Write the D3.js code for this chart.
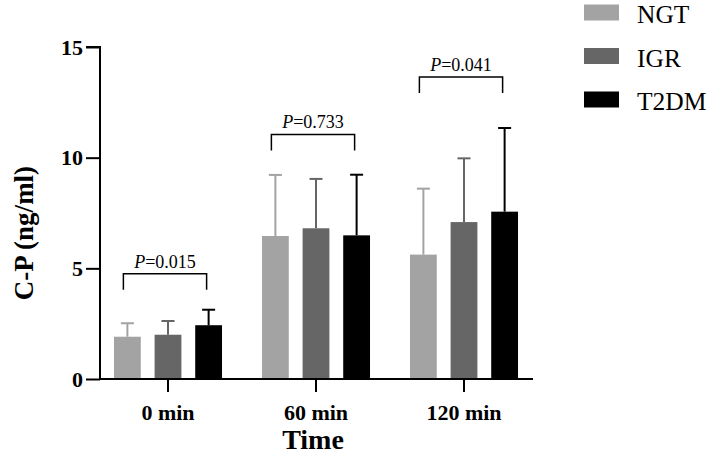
<!DOCTYPE html>
<html>
<head>
<meta charset="utf-8">
<script src="https://cdn.jsdelivr.net/npm/d3@7/dist/d3.min.js"></script>
<style>
  body { margin: 0; background: #fff; }
  svg { display: block; }
  text { font-family: "Liberation Serif", "Times New Roman", serif; }
</style>
</head>
<body>
<svg id="chart" width="709" height="457"></svg>
<script>
const categories = ["0 min", "60 min", "120 min"];
const groups = ["NGT", "IGR", "T2DM"];
const colors = ["#a3a3a3", "#666666", "#000000"];
const meanNGT = [1.91, 6.46, 5.62];
const meanIGR = [2.0, 6.81, 7.09];
const meanT2DM = [2.43, 6.49, 7.56];
const upperNGT = [2.52, 9.22, 8.6];
const upperIGR = [2.62, 9.04, 9.97];
const upperT2DM = [3.13, 9.23, 11.34];
const pValues = ["0.015", "0.733", "0.041"];
const bracketLevels = [4.75, 11.05, 13.65];
const yTicks = [0, 5, 10, 15];

const means = [meanNGT, meanIGR, meanT2DM];
const uppers = [upperNGT, upperIGR, upperT2DM];

const svg = d3.select("#chart");
const x0 = d3.scaleBand().domain(categories).range([94, 538]).paddingInner(0.27).paddingOuter(0.135);
const x1 = d3.scaleBand().domain(groups).range([0, x0.bandwidth()]).paddingInner(0.34);
const y = d3.scaleLinear().domain([0, 15]).range([379, 47]);

// bars
categories.forEach((c, ci) => {
  groups.forEach((g, gi) => {
    const bx = x0(c) + x1(g);
    const bw = x1.bandwidth();
    const cx = bx + bw / 2;
    svg.append("line")
      .attr("x1", cx).attr("x2", cx)
      .attr("y1", y(means[gi][ci])).attr("y2", y(uppers[gi][ci]))
      .attr("stroke", colors[gi]).attr("stroke-width", 2);
    svg.append("line")
      .attr("x1", cx - 6.5).attr("x2", cx + 6.5)
      .attr("y1", y(uppers[gi][ci])).attr("y2", y(uppers[gi][ci]))
      .attr("stroke", colors[gi]).attr("stroke-width", 2);
    svg.append("rect")
      .attr("x", bx).attr("y", y(means[gi][ci]))
      .attr("width", bw).attr("height", y(0) - y(means[gi][ci]))
      .attr("fill", colors[gi]);
  });
  // significance bracket
  const xa = x0(c) + x1("NGT") + x1.bandwidth() / 2 - 4;
  const xb = x0(c) + x1("T2DM") + x1.bandwidth() / 2 - 2;
  const yb = y(bracketLevels[ci]);
  svg.append("path")
    .attr("d", `M${xa},${yb + 16}V${yb}H${xb}V${yb + 16}`)
    .attr("fill", "none").attr("stroke", "#000").attr("stroke-width", 1.5);
  const t = svg.append("text")
    .attr("x", (xa + xb) / 2).attr("y", yb - 6)
    .attr("text-anchor", "middle").attr("font-size", 18);
  t.append("tspan").attr("font-style", "italic").text("P");
  t.append("tspan").text("=" + pValues[ci]);
});

// y axis
const yAxis = svg.append("g").attr("transform", "translate(100,0)")
  .call(d3.axisLeft(y).tickValues(yTicks).tickSize(14).tickPadding(3));
yAxis.select(".domain").attr("stroke-width", 2).attr("d", `M-14,${y(15)}H0V${y(0)}`);
yAxis.selectAll(".tick line").attr("stroke-width", 2);
yAxis.selectAll(".tick text").attr("font-size", 22).attr("font-weight", "bold")
  .attr("font-family", "Liberation Serif").attr("fill", "#000");

// x axis
const xAxis = svg.append("g").attr("transform", `translate(0,${y(0)})`)
  .call(d3.axisBottom(x0).tickSize(13).tickPadding(12));
xAxis.select(".domain").attr("stroke-width", 2).attr("d", "M100,0H533");
xAxis.selectAll(".tick line").attr("stroke-width", 2);
xAxis.selectAll(".tick text").attr("font-size", 22).attr("font-weight", "bold")
  .attr("font-family", "Liberation Serif").attr("fill", "#000");

// axis titles
svg.append("text").attr("x", 313).attr("y", 449).attr("text-anchor", "middle")
  .attr("font-size", 28).attr("font-weight", "bold").text("Time");
svg.append("text").attr("transform", "translate(33,233) rotate(-90)")
  .attr("text-anchor", "middle").attr("font-size", 27).attr("font-weight", "bold")
  .text("C-P (ng/ml)");

// legend
groups.forEach((g, gi) => {
  const ly = 4.5 + gi * 43.5;
  svg.append("rect").attr("x", 584).attr("y", ly).attr("width", 35).attr("height", 16)
    .attr("fill", colors[gi]);
  svg.append("text").attr("x", 637).attr("y", ly + 18.5).attr("font-size", 25.5).text(g);
});
</script>
</body>
</html>
